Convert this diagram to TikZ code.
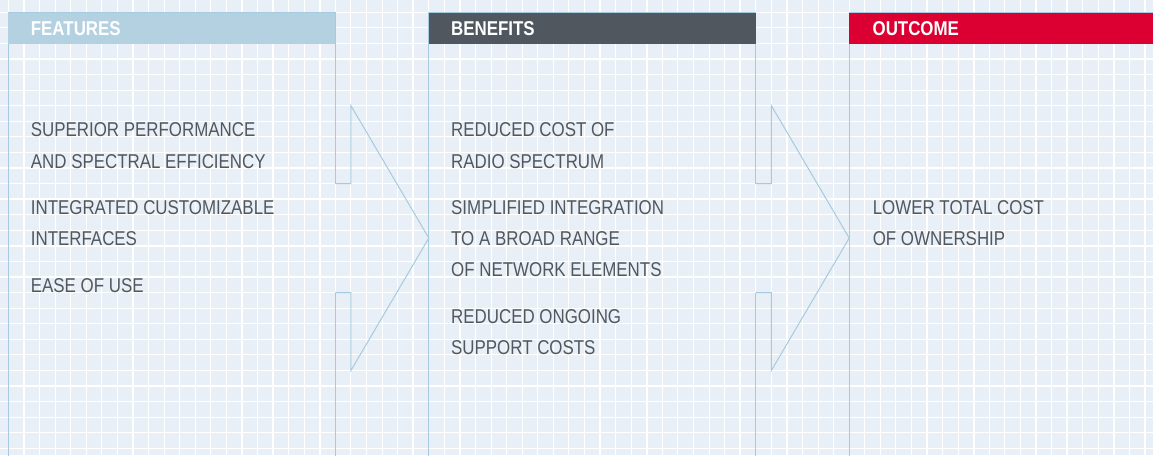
\documentclass[tikz,border=0pt]{standalone}
\usepackage{fontspec}
\setmainfont{Liberation Sans}[FakeStretch=0.845]
\definecolor{paper}{HTML}{E8EFF6}
\definecolor{rule}{HTML}{A6CBDF}
\definecolor{featblue}{HTML}{B3D1E1}
\definecolor{slate}{HTML}{50575E}
\definecolor{signal}{HTML}{DC0032}
\tikzset{
  colline/.style={draw=rule, line width=1.2pt},
  arrowline/.style={draw=rule, line width=1pt, line join=miter},
  headtext/.style={anchor=base west, inner sep=0pt, text=white,
    font=\fontsize{20}{20}\selectfont\bfseries},
  bodytext/.style={anchor=base west, inner sep=0pt, text=slate,
    font=\fontsize{20}{20}\selectfont},
}
\begin{document}
\begin{tikzpicture}[x=1pt,y=-1pt]
\useasboundingbox (0,0) rectangle (1153,455);
\begin{scope}
\clip (0,0) rectangle (1153,455);
% squared paper
\fill[paper] (0,0) rectangle (1153,455);
\foreach \k in {-1,...,74} {
  \pgfmathsetmacro\gx{8.4+15.57*\k}
  \pgfmathtruncatemacro\m{mod(\k+3,3)}
  \pgfmathsetmacro\lw{ifthenelse(\m==2,1.5,1.1)}
  \draw[white, line width=\lw pt] (\gx,-2) -- (\gx,460);
}
\foreach \k in {-1,...,29} {
  \pgfmathsetmacro\gy{12.3+15.57*\k}
  \pgfmathtruncatemacro\m{mod(\k+3,3)}
  \pgfmathsetmacro\lw{ifthenelse(\m==0,1.5,1.1)}
  \draw[white, line width=\lw pt] (-2,\gy) -- (1160,\gy);
}

% column outlines
\draw[colline] (8.4,12.3) -- (8.4,460);
\draw[colline] (335.4,12.3) -- (335.4,183.6);
\draw[colline] (335.4,292.6) -- (335.4,460);
\draw[colline] (428.8,12.3) -- (428.8,460);
\draw[colline] (755.8,12.3) -- (755.8,183.6);
\draw[colline] (755.8,292.6) -- (755.8,460);
\draw[colline] (849.2,12.3) -- (849.2,460);

% header bars
\fill[featblue] (8.4,12.3) rectangle (335.4,43.6);
\fill[slate] (428.8,12.3) rectangle (755.8,43.6);
\fill[signal] (849.2,12.3) rectangle (1160,43.6);
\draw[rule, line width=0.8pt] (8.4,12.3) -- (335.4,12.3);
\draw[rule, line width=0.8pt] (428.8,12.3) -- (755.8,12.3);
\draw[rule, line width=0.8pt] (849.2,12.3) -- (1160,12.3);

% arrows between the columns
\draw[arrowline] (335.4,183.6) -- (350.97,183.6) -- (350.97,105.7)
  -- (428.8,238.05) -- (350.97,370.4) -- (350.97,292.6) -- (335.4,292.6);
\draw[arrowline] (755.8,183.6) -- (771.4,183.6) -- (771.4,105.7)
  -- (849.2,238.05) -- (771.4,370.4) -- (771.4,292.6) -- (755.8,292.6);
\end{scope}

% headings
\node[headtext] (hfeat) at (30.7,35) {FEATURES};
\node[headtext] (hben) at (450.9,35) {BENEFITS};
\node[headtext] (hout) at (872.4,35) {OUTCOME};

% features
\node[bodytext] (f1a) at (30.7,136.9) {SUPERIOR PERFORMANCE};
\node[bodytext] (f1b) at (30.7,168.0) {AND SPECTRAL EFFICIENCY};
\node[bodytext] (f2a) at (30.7,214.7) {INTEGRATED CUSTOMIZABLE};
\node[bodytext] (f2b) at (30.7,245.8) {INTERFACES};
\node[bodytext] (f3a) at (30.7,292.4) {EASE OF USE};

% benefits
\node[bodytext] (b1a) at (451,136.9) {REDUCED COST OF};
\node[bodytext] (b1b) at (451,168.0) {RADIO SPECTRUM};
\node[bodytext] (b2a) at (451,214.7) {SIMPLIFIED INTEGRATION};
\node[bodytext] (b2b) at (451,245.8) {TO A BROAD RANGE};
\node[bodytext] (b2c) at (451,276.9) {OF NETWORK ELEMENTS};
\node[bodytext] (b3a) at (451,323.0) {REDUCED ONGOING};
\node[bodytext] (b3b) at (451,354.5) {SUPPORT COSTS};

% outcome
\node[bodytext] (o1a) at (872.6,214.9) {LOWER TOTAL COST};
\node[bodytext] (o1b) at (872.6,245.5) {OF OWNERSHIP};
\end{tikzpicture}
\end{document}
